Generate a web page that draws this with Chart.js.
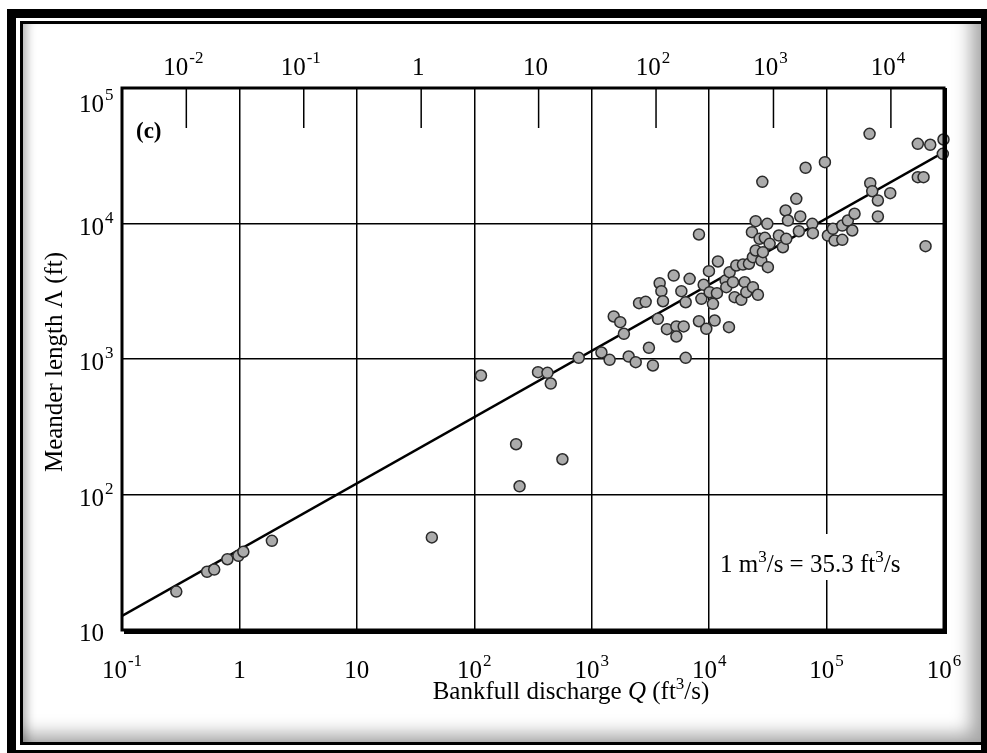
<!DOCTYPE html>
<html lang="en">
  <head>
    <meta charset="UTF-8" />
    <title>Meander length vs bankfull discharge</title>
    <script src="https://cdn.jsdelivr.net/npm/chart.js@4"></script>
    <style>
      body {
        margin: 0;
        width: 987px;
        height: 753px;
        overflow: hidden;
        background: #fff;
        position: relative;
      }

      /* picture frame round the figure */
      #outer {
        position: absolute;
        left: 7px;
        top: 9px;
        width: 980px;
        height: 744px;
        box-sizing: border-box;
        border-style: solid;
        border-color: #000;
        border-width: 9px 6px 3px 9px;
        background: #fff;
      }

      #inner {
        position: absolute;
        left: 4px;
        top: 3px;
        right: 0;
        bottom: 5px;
        border-style: solid;
        border-color: #000;
        border-width: 3px 0 3px 3px;
        box-shadow: inset -22px -20px 18px -12px rgba(0, 0, 0, 0.35),
          inset 10px 0 10px -6px rgba(0, 0, 0, 0.3);
      }

      #chart {
        position: absolute;
        left: 0;
        top: 0;
      }
    </style>
  </head>
  <body>
    <div id="outer"><div id="inner"></div></div>
    <canvas id="chart" width="987" height="753"></canvas>

    <script>
      // bankfull discharge Q (ft3/s) and meander length (ft)
      const discharge = [
        0.29, 0.53, 0.61, 0.79, 0.98, 1.08, 1.89, 43.5, 114, 227, 563, 243,
        349, 420, 448, 775, 1210, 1420, 2065, 2370, 3320, 6310, 3070, 1540,
        1750, 1880, 3660, 4370, 5260, 6070, 5260, 8190, 9460, 11140, 14750,
        2530, 2880, 3790, 3920, 4045, 4990, 5800, 6310, 6820, 8590, 8980, 9960,
        10100, 10780, 11650, 11880, 13810, 14000, 14940, 15950, 16490, 17030,
        18790, 19400, 20050, 20730, 21820, 23590, 23590, 26030, 27800, 31640,
        8190, 23140, 26900, 29840, 32730, 24890, 28700, 24890, 31270, 28370,
        42460, 39270, 45390, 44770, 46880, 55230, 59730, 58090, 66260, 75580,
        76440, 96800, 102600, 113200, 117000, 136100, 136100, 151800, 165500,
        173100, 235500, 244800, 273500, 348500, 273500, 232300, 598400, 763500,
        990000, 977000, 598400, 669500, 696500,
      ];
      const meanderLength = [
        19.2, 26.9, 27.9, 33.3, 35.3, 37.8, 45.5, 48.2, 755, 235, 182, 115,
        800, 791, 659, 1020, 1117, 986, 1043, 947, 896, 1020, 1210, 2060, 1870,
        1535, 1980, 1660, 1740, 1740, 1466, 1900, 1670, 1923, 1718, 2582, 2643,
        3625, 3165, 2670, 4130, 3165, 2625, 3905, 2780, 3530, 4450, 3110, 2555,
        3060, 5245, 3800, 3388, 4373, 3690, 2858, 4900, 2735, 4980, 3690, 3110,
        5045, 5640, 3388, 2978, 5330, 4760, 8300, 8630, 7710, 7840, 7080, 6320,
        6140, 10400, 9950, 20300, 6680, 8150, 7710, 12470, 10520, 15210, 11270,
        8770, 25770, 9950, 8480, 28340, 8150, 9140, 7490, 9660, 7580, 10520,
        8880, 11800, 19850, 17310, 14790, 16740, 11270, 45900, 38730, 38100,
        41690, 32680, 21980, 21980, 6800,
      ];

      // fitted power law, end points
      const fitQ = [0.1, 1e6];
      const fitLength = [12.7, 33600];

      // axis ticks
      const xTicks = [0.1, 1, 10, 100, 1e3, 1e4, 1e5, 1e6];
      const xTickText = ["10^-1", "1", "10", "10^2", "10^3", "10^4", "10^5", "10^6"];
      const yTicks = [10, 100, 1e3, 1e4, 1e5];
      const yTickText = ["10", "10^2", "10^3", "10^4", "10^5"];
      const topTicks = [0.01, 0.1, 1, 10, 100, 1e3, 1e4]; // m3/s
      const topTickText = ["10^-2", "10^-1", "1", "10", "10^2", "10^3", "10^4"];
      const FT3_PER_M3 = 35.3;

      const SERIF = '"Liberation Serif", "Times New Roman", serif';
      const BASE_FONT = "25px " + SERIF;
      const EXP_FONT = "17px " + SERIF;

      // draws "10^3" style text with a raised exponent
      function drawPow(ctx, txt, x, y, align) {
        const [base, exp] = txt.split("^");
        ctx.font = BASE_FONT;
        const wb = ctx.measureText(base).width;
        let we = 0;
        if (exp) {
          ctx.font = EXP_FONT;
          we = ctx.measureText(exp).width + 1;
        }
        let x0 = x;
        if (align === "center") x0 = x - (wb + we) / 2;
        if (align === "right") x0 = x - wb - we;
        ctx.font = BASE_FONT;
        ctx.fillText(base, x0, y);
        if (exp) {
          ctx.font = EXP_FONT;
          ctx.fillText(exp, x0 + wb + 1, y - 12);
        }
      }

      // draws a run of [text, font, raise] pieces starting at x
      function drawRun(ctx, parts, x, y, align) {
        let total = 0;
        parts.forEach((p) => {
          ctx.font = p[1];
          total += ctx.measureText(p[0]).width;
        });
        let cx = align === "center" ? x - total / 2 : x;
        parts.forEach((p) => {
          ctx.font = p[1];
          ctx.fillText(p[0], cx, y - (p[2] || 0));
          cx += ctx.measureText(p[0]).width;
        });
      }

      const figureText = {
        id: "figureText",
        afterDraw(chart) {
          const ctx = chart.ctx;
          const a = chart.chartArea;
          const xs = chart.scales.x;
          const ys = chart.scales.y;
          const ts = chart.scales.xTop;
          ctx.save();
          ctx.fillStyle = "#000";
          ctx.strokeStyle = "#000";
          ctx.textBaseline = "alphabetic";
          ctx.textAlign = "left";

          // plot frame, heavier on the right and bottom
          ctx.lineWidth = 3;
          ctx.strokeRect(a.left, a.top, a.right - a.left, a.bottom - a.top);
          ctx.lineWidth = 4;
          ctx.beginPath();
          ctx.moveTo(a.right + 1, a.top);
          ctx.lineTo(a.right + 1, a.bottom + 2);
          ctx.lineTo(a.left + 2, a.bottom + 2);
          ctx.stroke();

          // m3/s ticks hanging from the top edge
          ctx.lineWidth = 1.5;
          topTicks.forEach((v, i) => {
            const px = ts.getPixelForValue(v);
            ctx.beginPath();
            ctx.moveTo(px, a.top);
            ctx.lineTo(px, a.top + 40);
            ctx.stroke();
            drawPow(ctx, topTickText[i], px - 3, 75, "center");
          });

          xTicks.forEach((v, i) => {
            drawPow(ctx, xTickText[i], xs.getPixelForValue(v), 678, "center");
          });
          yTicks.forEach((v, i) => {
            const py = ys.getPixelForValue(v);
            drawPow(ctx, yTickText[i], 79, i === yTicks.length - 1 ? py + 24 : py + 11, "left");
          });

          // conversion note on a white patch
          ctx.fillStyle = "#fff";
          ctx.fillRect(714, 534, 204, 46);
          ctx.fillStyle = "#000";
          drawRun(
            ctx,
            [
              ["1 m", BASE_FONT],
              ["3", EXP_FONT, 10],
              ["/s = 35.3 ft", BASE_FONT],
              ["3", EXP_FONT, 10],
              ["/s", BASE_FONT],
            ],
            720,
            572,
            "left"
          );

          // panel letter
          ctx.font = "bold 23px " + SERIF;
          ctx.fillText("(c)", 136, 138);

          // axis titles
          drawRun(
            ctx,
            [
              ["Bankfull discharge ", BASE_FONT],
              ["Q", "italic " + BASE_FONT],
              [" (ft", BASE_FONT],
              ["3", EXP_FONT, 10],
              ["/s)", BASE_FONT],
            ],
            571,
            699,
            "center"
          );
          ctx.translate(55, 362);
          ctx.rotate(-Math.PI / 2);
          ctx.textBaseline = "middle";
          drawRun(ctx, [["Meander length \u039B (ft)", BASE_FONT]], 0, 0, "center");
          ctx.restore();
        },
      };

      const points = discharge.map((q, i) => ({ x: q, y: meanderLength[i] }));
      const fitLine = fitQ.map((q, i) => ({ x: q, y: fitLength[i] }));

      const gridStyle = {
        color: "#000",
        lineWidth: 1.5,
        drawTicks: false,
      };

      new Chart(document.getElementById("chart"), {
        type: "scatter",
        data: {
          datasets: [
            {
              data: points,
              pointRadius: 5.5,
              pointBackgroundColor: "#ababab",
              pointBorderColor: "#2a2a2a",
              pointBorderWidth: 1.5,
              clip: 8,
            },
            {
              type: "line",
              data: fitLine,
              borderColor: "#000",
              borderWidth: 2.5,
              pointRadius: 0,
              fill: false,
            },
          ],
        },
        options: {
          responsive: false,
          animation: false,
          devicePixelRatio: 1,
          layout: { padding: { right: 43 } },
          plugins: {
            legend: { display: false },
            tooltip: { enabled: false },
          },
          scales: {
            x: {
              type: "logarithmic",
              position: "bottom",
              min: 0.1,
              max: 1e6,
              grid: gridStyle,
              border: { display: false },
              ticks: { display: false },
              afterBuildTicks: (s) => {
                s.ticks = xTicks.map((v) => ({ value: v }));
              },
              afterFit: (s) => {
                s.height = 123;
              },
            },
            xTop: {
              type: "logarithmic",
              position: "top",
              min: 0.1 / FT3_PER_M3,
              max: 1e6 / FT3_PER_M3,
              grid: { display: false },
              border: { display: false },
              ticks: { display: false },
              afterFit: (s) => {
                s.height = 88;
              },
            },
            y: {
              type: "logarithmic",
              min: 10,
              max: 1e5,
              grid: gridStyle,
              border: { display: false },
              ticks: { display: false },
              afterBuildTicks: (s) => {
                s.ticks = yTicks.map((v) => ({ value: v }));
              },
              afterFit: (s) => {
                s.width = 122;
              },
            },
          },
        },
        plugins: [figureText],
      });
    </script>
  </body>
</html>
